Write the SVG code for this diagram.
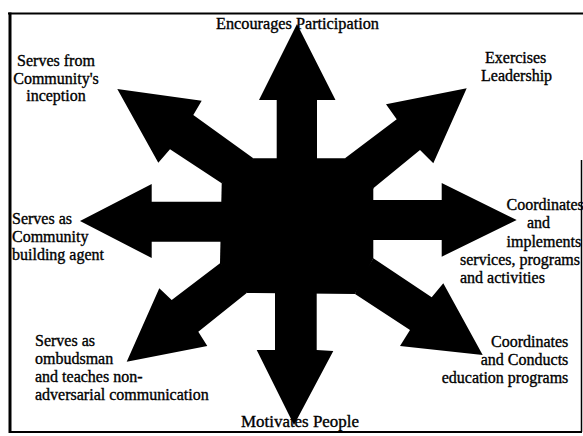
<svg xmlns="http://www.w3.org/2000/svg" width="583" height="436" viewBox="0 0 583 436">
  <style>
    .lbl { font-family: "Liberation Serif", "Times New Roman", serif; font-size: 16px; fill: #000; stroke: #000; stroke-width: 0.35px; }
    .mid { text-anchor: middle; }
    .end { text-anchor: end; }
    .arrow { fill: #000; stroke: none; }
    .frame { fill: none; stroke: #000; }
  </style>
  <rect width="583" height="436" fill="#fff"/>

  <!-- outer frame -->
  <g id="frame">
    <path class="frame" stroke-width="2" d="M8 13.5 H583"/>
    <path class="frame" stroke-width="3" d="M10 12.5 V433"/>
    <path class="frame" stroke-width="2" d="M9 432 H582"/>
    <path class="frame" stroke-width="1.5" d="M581.5 160 V432"/>
  </g>

  <!-- central hub -->
  <g id="hub">
    <polygon class="arrow" points="253.3,158.3 345,158.3 373.3,188.3 373.3,258.3 355,294 246.7,293 220,263.3 221.7,183.3"/>
  </g>

  <!-- eight arrows radiating from the hub -->
  <g id="connectors">
    <polygon id="arrow-n" class="arrow" points="276.7,170 276.7,100 259,100 297,24 335.5,100 317,100 317,170"/>
    <polygon id="arrow-ne" class="arrow" points="345,158.3 396.7,119.3 386,104.3 466.7,88.3 433.3,163.3 420,150 373.3,188.3 350,180"/>
    <polygon id="arrow-e" class="arrow" points="360,200 441.7,200 441.7,183 516.7,220 441.7,256.7 441.7,240 360,240"/>
    <polygon id="arrow-se" class="arrow" points="373.3,258.3 431.7,297.3 443.3,283.3 482.7,355 400,346 410,330 355,294 360,280"/>
    <polygon id="arrow-s" class="arrow" points="316.7,280 316.7,350 333.3,351 294,425 256.7,350 275,350 275,280"/>
    <polygon id="arrow-sw" class="arrow" points="220,263.3 171.7,300 159.3,288.3 126.7,361.7 207.3,346 198.3,331.7 246.7,293 240,275"/>
    <polygon id="arrow-w" class="arrow" points="235,241.7 151.7,241.7 151.7,258 80,221 151.7,184 151.7,201.7 235,201.7"/>
    <polygon id="arrow-nw" class="arrow" points="253.3,158.3 193.3,115 201.7,100.7 117.3,89 158.3,162.7 170,149.3 221.7,183.3 240,175"/>
  </g>

  <!-- labels -->
  <g id="label-n">
    <text class="lbl" x="216" y="29" textLength="163" lengthAdjust="spacingAndGlyphs">Encourages Participation</text>
  </g>
  <g id="label-ne">
    <text class="lbl" x="485" y="63">Exercises</text>
    <text class="lbl" x="481" y="81">Leadership</text>
  </g>
  <g id="label-e">
    <text class="lbl" x="506.5" y="210">Coordinates</text>
    <text class="lbl" x="527" y="228.3">and</text>
    <text class="lbl" x="506.5" y="246.7">implements</text>
    <text class="lbl" x="460" y="265">services, programs</text>
    <text class="lbl" x="460" y="283.3">and activities</text>
  </g>
  <g id="label-se">
    <text class="lbl end" x="568.3" y="346.7">Coordinates</text>
    <text class="lbl end" x="568.3" y="365">and Conducts</text>
    <text class="lbl end" x="568.3" y="383.3">education programs</text>
  </g>
  <g id="label-s">
    <text class="lbl" x="241" y="427" textLength="118" lengthAdjust="spacingAndGlyphs">Motivates People</text>
  </g>
  <g id="label-sw">
    <text class="lbl" x="35" y="346">Serves as</text>
    <text class="lbl" x="35" y="364">ombudsman</text>
    <text class="lbl" x="35" y="382">and teaches non-</text>
    <text class="lbl" x="35" y="400">adversarial communication</text>
  </g>
  <g id="label-w">
    <text class="lbl" x="12" y="224">Serves as</text>
    <text class="lbl" x="12" y="242">Community</text>
    <text class="lbl" x="12" y="260">building agent</text>
  </g>
  <g id="label-nw">
    <text class="lbl mid" x="56" y="65.5">Serves from</text>
    <text class="lbl mid" x="56" y="83.5">Community's</text>
    <text class="lbl mid" x="56" y="101">inception</text>
  </g>
</svg>
